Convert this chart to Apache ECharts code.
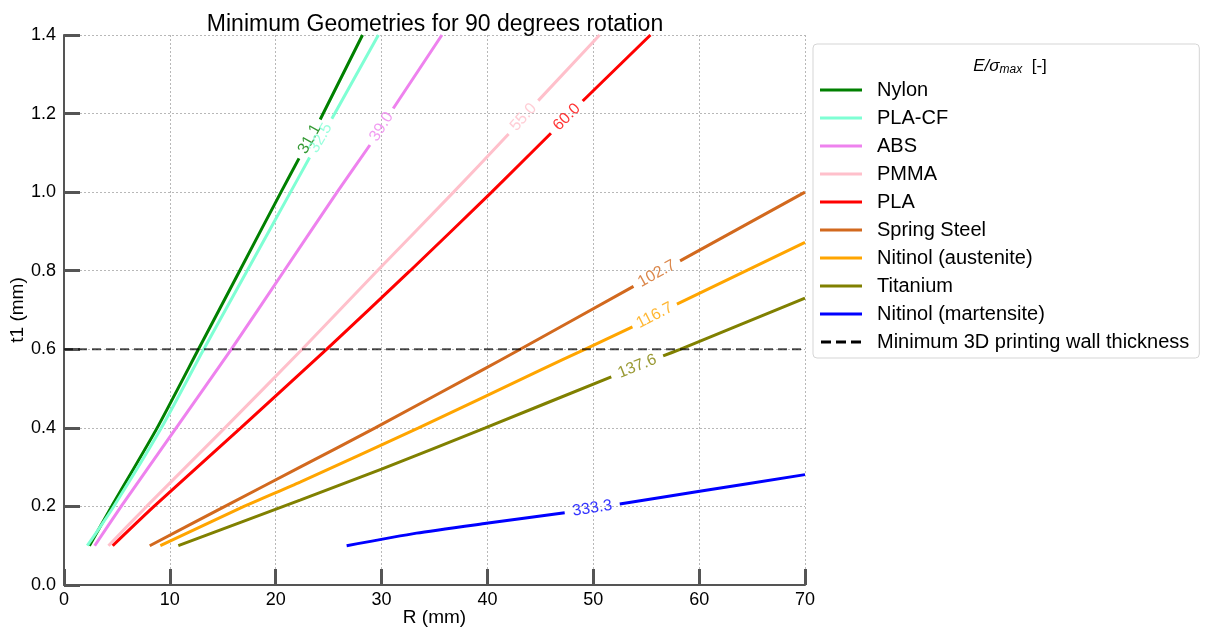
<!DOCTYPE html>
<html>
<head>
<meta charset="utf-8">
<title>Minimum Geometries for 90 degrees rotation</title>
<script src="https://cdn.jsdelivr.net/npm/echarts@6/dist/echarts.min.js"></script>
<style>
  html, body { margin: 0; padding: 0; background: #fff; }
  #chart { width: 1205px; height: 627px; }
</style>
</head>
<body>
<div id="chart"></div>
<script>
// [R (mm), t1 (mm)], null = gap where the inline label sits
var nylon = [[2.4, 0.1], [4.5, 0.2], [8.8, 0.4], [12.7, 0.6], [16.6, 0.8], [20.5, 1.0], [22.2, 1.086], null, [24.2, 1.185], [28.2, 1.4]]
var plaCf = [[2.2, 0.1], [4.7, 0.2], [9.2, 0.4], [13.2, 0.6], [17.3, 0.8], [21.4, 1.0], [23.2, 1.088], null, [25.3, 1.187], [29.7, 1.4]]
var abs = [[2.9, 0.1], [5.4, 0.2], [10.6, 0.4], [15.8, 0.6], [20.8, 0.8], [25.8, 1.0], [28.9, 1.12], null, [31.1, 1.213], [35.7, 1.4]]
var pmma = [[4.2, 0.1], [7.8, 0.2], [15.2, 0.4], [22.5, 0.6], [29.6, 0.8], [36.8, 1.0], [42.0, 1.148], null, [44.8, 1.233], [50.6, 1.4]]
var pla = [[4.6, 0.1], [8.5, 0.2], [16.7, 0.4], [24.8, 0.6], [32.7, 0.8], [40.4, 1.0], [46.0, 1.15], null, [49.0, 1.232], [55.4, 1.4]]
var springSteel = [[8.1, 0.1], [15.2, 0.2], [22.3, 0.3], [29.4, 0.4], [39.5, 0.547], [43.1, 0.6], [53.8, 0.76], null, [58.2, 0.825], [70, 1.0]]
var nitinolA = [[9.1, 0.1], [17.0, 0.2], [22.3, 0.262], [33.5, 0.4], [45.0, 0.547], [49.2, 0.6], [53.7, 0.657], null, [57.9, 0.715], [70, 0.872]]
var titanium = [[10.8, 0.1], [22.3, 0.216], [30, 0.295], [39.8, 0.4], [51.7, 0.53], null, [56.6, 0.583], [58.2, 0.6], [70, 0.73]]
var nitinolM = [[26.7, 0.1], [33.3, 0.132], [39.9, 0.157], [47.3, 0.184], null, [52.5, 0.206], [59.9, 0.238], [70, 0.281]]

var names = ['Nylon', 'PLA-CF', 'ABS', 'PMMA', 'PLA', 'Spring Steel', 'Nitinol (austenite)', 'Titanium', 'Nitinol (martensite)']
var levels = ['31.1', '32.5', '39.0', '55.0', '60.0', '102.7', '116.7', '137.6', '333.3']
var colors = ['#008000', '#7fffd4', '#ee82ee', '#ffc0cb', '#ff0000', '#d2691e', '#ffa500', '#808000', '#0000ff']
var wallName = 'Minimum 3D printing wall thickness'
var wallThickness = 0.6

var curves = [nylon, plaCf, abs, pmma, pla, springSteel, nitinolA, titanium, nitinolM]
var FONT = '"Liberation Sans", Arial, sans-serif'

var chart = echarts.init(document.getElementById('chart'))

var series = curves.map(function(d, i) {
  return {
    name: names[i],
    type: 'line',
    data: d,
    symbol: 'none',
    smooth: 0.2,
    connectNulls: false,
    lineStyle: { color: colors[i], width: 3 },
    itemStyle: { color: colors[i] },
    z: 2
  }
})
series.push({
  name: wallName,
  type: 'line',
  data: [[0, wallThickness], [70, wallThickness]],
  symbol: 'none',
  lineStyle: { color: '#000', opacity: 0.7, width: 2, type: [9, 5] },
  itemStyle: { color: '#000' },
  z: 3
})
series.push({
  id: 'levels',
  type: 'scatter',
  data: [],
  symbolSize: 1,
  itemStyle: { color: 'rgba(0,0,0,0)' },
  silent: true,
  z: 4,
  label: {
    show: true,
    position: 'inside',
    formatter: '{b}',
    fontSize: 16,
    fontFamily: FONT,
    align: 'center',
    verticalAlign: 'middle'
  }
})

// legend keys: plain bars, dashes for the wall-thickness line
var legendData = names.map(function(n) { return { name: n, icon: 'rect' } })
legendData.push({ name: wallName, icon: 'path://M0,0h10v3h-10z M15,0h10v3h-10z M30,0h10v3h-10z' })

chart.setOption({
  animation: false,
  title: [
    {
      text: 'Minimum Geometries for 90 degrees rotation',
      left: 430,
      top: 8,
      textAlign: 'center',
      textStyle: { fontSize: 23, fontWeight: 'normal', color: '#000', fontFamily: FONT }
    },
    {
      text: '{i|E/σ}{s|max}{n|  [-]}',
      left: 1005,
      top: 51,
      textAlign: 'center',
      textStyle: {
        fontWeight: 'normal',
        rich: {
          i: { fontSize: 17, fontStyle: 'italic', fontWeight: 'normal', color: '#000', fontFamily: FONT },
          s: { fontSize: 12, fontStyle: 'italic', fontWeight: 'normal', color: '#000', fontFamily: FONT, padding: [8, 0, 0, 0] },
          n: { fontSize: 17, fontWeight: 'normal', color: '#000', fontFamily: FONT }
        }
      }
    }
  ],
  grid: { left: 64, top: 35, width: 741, height: 550, containLabel: false, outerBoundsMode: 'none' },
  legend: {
    orient: 'vertical',
    left: 813,
    top: 44,
    padding: [36, 10, 6, 7],
    itemGap: 8,
    itemWidth: 42,
    itemHeight: 3,
    borderColor: '#d5d5d5',
    borderWidth: 1,
    borderRadius: 4,
    selectedMode: false,
    textStyle: { fontSize: 20, lineHeight: 20, color: '#000', fontFamily: FONT, padding: [0, 0, 0, 10] },
    data: legendData
  },
  xAxis: {
    type: 'value',
    min: 0,
    max: 70,
    interval: 10,
    name: 'R (mm)',
    nameLocation: 'middle',
    nameGap: 23,
    nameMoveOverlap: false,
    nameTextStyle: { fontSize: 19, color: '#000', fontFamily: FONT },
    axisLine: { lineStyle: { color: '#555', width: 2 } },
    axisTick: { inside: true, length: 16, lineStyle: { color: '#555', width: 3 } },
    axisLabel: { fontSize: 18, color: '#000', fontFamily: FONT, margin: 6 },
    splitLine: { show: true, lineStyle: { color: '#b8b8b8', width: 1, type: [2, 2] } }
  },
  yAxis: {
    type: 'value',
    min: 0,
    max: 1.4,
    interval: 0.2,
    name: 't1 (mm)',
    nameLocation: 'middle',
    nameGap: 37,
    nameMoveOverlap: false,
    nameTextStyle: { fontSize: 19, color: '#000', fontFamily: FONT },
    axisLine: { show: true, lineStyle: { color: '#555', width: 2 } },
    axisTick: { show: true, inside: true, length: 16, lineStyle: { color: '#555', width: 3 } },
    axisLabel: {
      fontSize: 18, color: '#000', fontFamily: FONT, margin: 8,
      formatter: function(v) { return v.toFixed(1) }
    },
    splitLine: { show: true, lineStyle: { color: '#b8b8b8', width: 1, type: [2, 2] } }
  },
  series: series
})

// put each level label in the middle of its gap, turned along the curve
var labelData = curves.map(function(d, i) {
  var k = d.indexOf(null)
  var a = d[k - 1]
  var b = d[k + 1]
  var pa = chart.convertToPixel({ gridIndex: 0 }, a)
  var pb = chart.convertToPixel({ gridIndex: 0 }, b)
  var angle = Math.atan2(pa[1] - pb[1], pb[0] - pa[0]) * 180 / Math.PI
  return {
    name: levels[i],
    value: [(a[0] + b[0]) / 2, (a[1] + b[1]) / 2],
    label: { color: colors[i], rotate: angle }
  }
})
chart.setOption({ series: [{ id: 'levels', data: labelData }] })
</script>
</body>
</html>
